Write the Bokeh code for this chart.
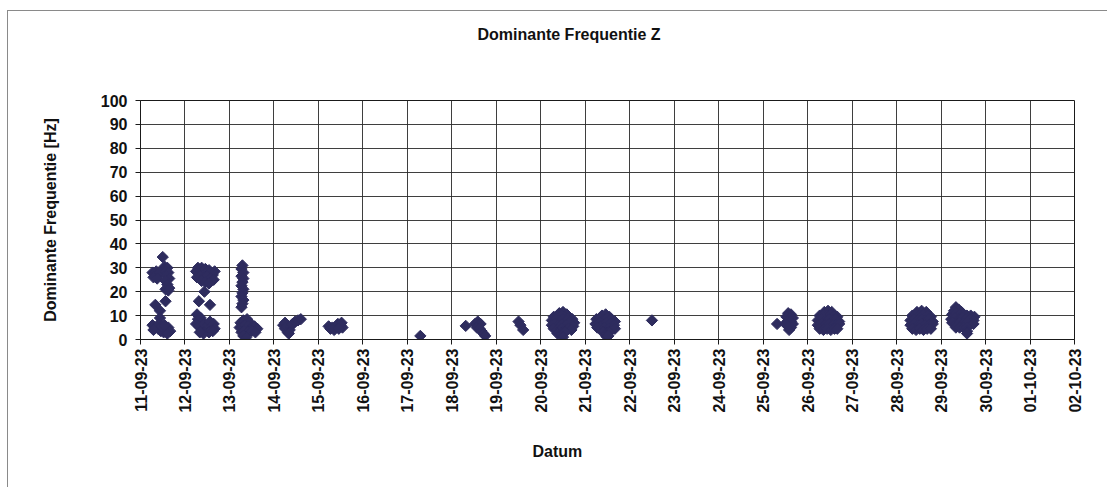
import numpy as np
import pandas as pd
from bokeh.plotting import figure
from bokeh.models import FixedTicker, DatetimeTickFormatter, Range1d, Title, ColumnDataSource
from bokeh.embed import file_html
from bokeh.resources import INLINE

titel = "Dominante Frequentie Z"
y_label = "Dominante Frequentie [Hz]"
x_label = "Datum"
x_start = "2023-09-11"
x_end = "2023-10-02"
y_ticks = [0, 10, 20, 30, 40, 50, 60, 70, 80, 90, 100]

# hour of day and dominant frequency [Hz] per measuring day
uur_11 = [12.0, 6.5, 7.5, 8.5, 9.5, 10.5, 7.0, 9.0, 13.0, 14.5, 13.5, 15.0, 14.0, 15.5, 13.5, 14.5, 15.5, 13.5, 15.0,
          8.0, 13.5, 10.5, 10.5, 6.5, 8.0, 9.5, 7.0, 11.0, 12.5, 13.5, 15.0, 16.0, 14.5, 10.0, 11.5, 13.0]
freq_11 = [34.5, 28, 27.5, 28.5, 27, 28, 26, 25.5, 30.5, 30, 28.5, 28, 26.5, 25.5, 24.5, 23, 21.5, 21, 20.5,
           14.5, 16, 12, 9, 6, 5, 4.5, 4, 3.5, 3, 4.5, 5, 3.5, 2.5, 6.5, 5.5, 6]

uur_12 = [6.0, 7.0, 8.0, 9.0, 10.0, 11.0, 12.0, 13.0, 14.0, 15.0, 16.0, 6.5, 8.0, 10.0, 12.0, 14.0, 15.5, 9.0, 11.0, 13.0,
          10.5, 7.5, 13.5,
          6.5, 7.0, 8.5, 6.0, 7.5, 9.0, 10.5, 11.5, 12.5, 13.5, 14.5, 15.5, 16.0, 13.0, 10.0, 8.0, 15.0]
freq_12 = [28.5, 30, 29, 30, 29, 29.5, 28.5, 29, 28, 27, 28.5, 26, 26.5, 26, 26.5, 25.5, 25, 24.5, 24, 23.5,
           20, 16, 14.5,
           10.5, 8.5, 9, 6.5, 5.5, 4, 6.5, 4, 6, 7.5, 5.5, 6.5, 4.5, 3, 2.5, 3, 3.5]

uur_13 = [7.0, 6.5, 7.5, 6.5, 7.5, 7.0, 6.5, 7.5, 7.0, 6.5, 7.5, 7.0, 6.5,
          6.0, 7.5, 9.5, 11.0, 5.5, 7.0, 8.5, 10.0, 12.0, 13.5, 15.0, 6.5, 8.0, 10.0, 12.0, 14.0, 7.5, 9.0]
freq_13 = [31, 29.5, 28, 26.5, 25.5, 24, 22.5, 21, 19.5, 18, 16.5, 15, 13.5,
           7, 8, 8.5, 7, 5, 5.5, 6, 5.5, 5, 5.5, 4.5, 3, 3.5, 3, 3.5, 3, 1.5, 0.8]

uur_14 = [5.0, 6.0, 6.0, 7.0, 7.5, 8.5, 9.0, 10.0, 11.5, 13.0, 14.5, 8.0]
freq_14 = [6, 7, 4.5, 5.5, 3, 4, 5.5, 6.5, 7.5, 8, 8.5, 2.5]

uur_15 = [5.5, 6.5, 7.5, 8.5, 9.5, 10.5, 12.0, 13.0, 12.5, 11.0]
freq_15 = [5.5, 4.5, 5, 4, 5.5, 6.5, 6, 5, 7, 4.5]

uur_17 = [7.0]
freq_17 = [1.5]

uur_18 = [7.5, 12.5, 14.0, 15.5, 13.5, 15.0, 16.0, 17.0, 18.0]
freq_18 = [5.7, 6.5, 7.5, 6.5, 5, 4.5, 3.5, 2.5, 1.5]

uur_19 = [12.0, 13.0, 14.5]
freq_19 = [7.5, 6, 4]

uur_20 = [10.0, 12.0, 14.0,
          7.0, 9.0, 11.0, 13.0, 15.0, 17.0,
          6.0, 8.0, 10.0, 12.0, 14.0, 16.0, 18.0,
          6.0, 7.5, 9.5, 11.5, 13.5, 15.5, 17.5,
          7.0, 9.0, 11.0, 13.0, 15.0, 16.5,
          9.0, 11.0, 13.0, 12.0]
freq_20 = [11, 11.5, 10.5,
           9.5, 10, 10, 9.5, 9, 8.5,
           8, 8.5, 8, 8.5, 8, 7.5, 7,
           6, 6.5, 6, 6.5, 6, 6, 5.5,
           4.5, 4, 4.5, 4, 4.5, 4,
           2.5, 2.5, 3, 1]

uur_21 = [9.0, 11.0, 13.0,
          6.0, 8.0, 10.0, 12.0, 14.0, 16.0,
          5.5, 7.5, 9.5, 11.5, 13.5, 15.5,
          6.5, 8.5, 10.5, 12.5, 14.5, 16.0,
          9.5, 11.5, 13.0, 11.5, 12.5]
freq_21 = [10, 10.5, 9.5,
           8.5, 9, 8.5, 9, 8.5, 7.5,
           6.5, 7, 6.5, 7, 6.5, 6,
           5, 4.5, 5, 4.5, 4.5, 4.5,
           3, 2.5, 3, 1.2, 1.5]

uur_22 = [12.0]
freq_22 = [8]

uur_25 = [7.5, 13.5, 15.0, 12.5, 14.5, 16.0, 13.0, 15.0, 16.0, 13.5, 15.0, 14.0, 12.0]
freq_25 = [6.5, 11, 10.5, 9.5, 9, 9, 7.5, 7.5, 6.5, 5.5, 5, 4, 6.5]

uur_26 = [9.0, 11.0, 13.0,
          6.5, 8.5, 10.5, 12.5, 14.5, 16.0,
          5.5, 7.5, 9.5, 11.5, 13.5, 15.5, 17.0,
          5.5, 7.5, 9.5, 11.5, 13.5, 15.5, 17.0,
          6.5, 8.5, 10.5, 12.5, 14.5, 16.0]
freq_26 = [11.5, 12, 11.5,
           10, 10.5, 10, 10.5, 10, 9.5,
           8, 8.5, 8, 8.5, 8, 8.5, 7.5,
           6, 6.5, 6, 6.5, 6, 6, 6.5,
           4.5, 4, 4.5, 4, 4.5, 4.5]

uur_28 = [11.0, 13.5, 16.0,
          8.5, 10.5, 12.5, 14.5, 16.5, 18.5,
          7.5, 9.5, 11.5, 13.5, 15.5, 17.5, 19.5,
          7.5, 9.5, 11.5, 13.5, 15.5, 17.5, 19.5,
          8.5, 10.5, 12.5, 14.5, 16.5, 18.5]
freq_28 = [11.5, 12, 11.5,
           10, 10.5, 10, 10.5, 10, 9.5,
           8, 8.5, 8, 8.5, 8, 8.5, 7.5,
           6, 6.5, 6, 6.5, 6, 6, 6.5,
           4.5, 4, 4.5, 4, 4.5, 4.5]

uur_29 = [8.0, 9.5, 7.0, 11.0,
          6.0, 8.0, 10.0, 12.0, 14.0, 16.0, 18.0,
          5.5, 7.5, 9.5, 11.5, 13.5, 15.5, 17.5,
          6.0, 8.0, 10.0, 12.0, 14.0, 16.0, 17.5,
          8.0, 10.0, 12.0, 14.0,
          14.0, 14.0]
freq_29 = [13.5, 12.5, 12, 11.5,
           10.5, 11, 10.5, 10.5, 10, 10, 9.5,
           8.5, 9, 8.5, 9, 8.5, 8.5, 8,
           7, 6.5, 7, 6.5, 7, 6.5, 6.5,
           5, 5, 5, 5,
           3.5, 2.5]

metingen = [
    ("2023-09-11", uur_11, freq_11), ("2023-09-12", uur_12, freq_12),
    ("2023-09-13", uur_13, freq_13), ("2023-09-14", uur_14, freq_14),
    ("2023-09-15", uur_15, freq_15), ("2023-09-17", uur_17, freq_17),
    ("2023-09-18", uur_18, freq_18), ("2023-09-19", uur_19, freq_19),
    ("2023-09-20", uur_20, freq_20), ("2023-09-21", uur_21, freq_21),
    ("2023-09-22", uur_22, freq_22), ("2023-09-25", uur_25, freq_25),
    ("2023-09-26", uur_26, freq_26), ("2023-09-28", uur_28, freq_28),
    ("2023-09-29", uur_29, freq_29),
]

tijden, waarden = [], []
for dag, uren, fr in metingen:
    assert len(uren) == len(fr)
    tijden += [pd.Timestamp(dag) + pd.Timedelta(hours=h) for h in uren]
    waarden += list(fr)
src = ColumnDataSource(data=dict(t=tijden, f=waarden))

dagen = pd.date_range(x_start, x_end, freq="D")
dag_ticks = [d.timestamp() * 1000 for d in dagen]

FONT = "Liberation Sans"
DARK = "#1a1a1a"
TXT = "#111111"

p = figure(width=1100, height=477, output_backend="svg", toolbar_location=None,
           x_axis_type="datetime",
           x_range=Range1d(pd.Timestamp(x_start), pd.Timestamp(x_end)),
           y_range=Range1d(0, 100),
           min_border_left=132, min_border_right=34, min_border_top=89, min_border_bottom=149)
p.styles = {"margin-left": "7px", "margin-top": "10px",
            "border-left": "1px solid #8a8a8a", "border-top": "1px solid #8a8a8a"}
p.background_fill_color = "white"
p.outline_line_color = DARK
p.outline_line_width = 1

# empty spacer title next to the frame, the real title stacked above it
p.add_layout(Title(text=" ", standoff=39, text_font=FONT, text_font_size="16px"), "above")

p.title.text = titel
p.title.text_font = FONT
p.title.text_font_size = "16px"
p.title.text_font_style = "bold"
p.title.text_color = TXT
p.title.align = "left"
p.title.offset = 337
p.title.standoff = 0

p.scatter("t", "f", source=src, marker="square", angle=np.pi / 4, size=8,
          fill_color="#2e2c5e", line_color="#2e2c5e", line_width=1)

xt = FixedTicker(ticks=dag_ticks)
p.xaxis.ticker = xt
p.xgrid.ticker = xt
fmt = "%d-%m-%y"
p.xaxis.formatter = DatetimeTickFormatter(milliseconds=fmt, seconds=fmt, minsec=fmt, minutes=fmt,
                                          hourmin=fmt, hours=fmt, days=fmt, months=fmt, years=fmt)
p.xaxis.major_label_orientation = np.pi / 2
p.yaxis.ticker = FixedTicker(ticks=y_ticks)
p.ygrid.ticker = FixedTicker(ticks=y_ticks)

for ax in (p.xaxis, p.yaxis):
    ax.axis_line_color = DARK
    ax.major_tick_line_color = DARK
    ax.major_tick_out = 5
    ax.major_tick_in = 0
    ax.minor_tick_line_color = None
    ax.major_label_text_font = FONT
    ax.major_label_text_font_size = "16px"
    ax.major_label_text_font_style = "bold"
    ax.major_label_text_color = TXT
    ax.axis_label_text_font = FONT
    ax.axis_label_text_font_size = "16px"
    ax.axis_label_text_font_style = "bold"
    ax.axis_label_text_color = TXT

p.yaxis.axis_label = y_label
p.yaxis.axis_label_standoff = 39
p.yaxis.major_label_standoff = 8
p.xaxis.major_label_standoff = 4

p.add_layout(Title(text=x_label, align="left", offset=392, standoff=51,
                   text_font=FONT, text_font_size="16px", text_font_style="bold",
                   text_color=TXT), "below")

for g in (p.xgrid, p.ygrid):
    g.grid_line_color = "#2a2a2a"
    g.grid_line_width = 1
    g.grid_line_alpha = 0.9

open("out.html", "w").write(file_html(p, INLINE))
